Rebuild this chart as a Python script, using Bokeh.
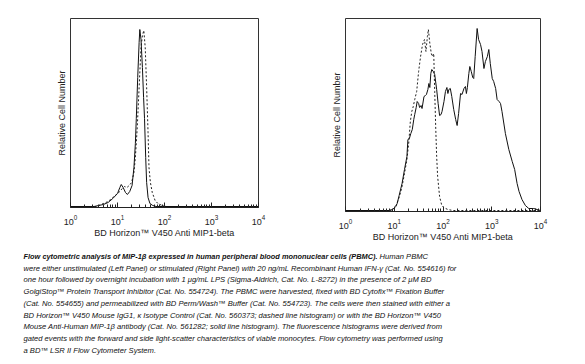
import numpy as np
from bokeh.plotting import figure
from bokeh.layouts import column, row
from bokeh.models import Range1d, FixedTicker, LogTickFormatter
from bokeh.core.properties import value
from bokeh.embed import file_html
from bokeh.resources import INLINE

# ---------------- data (log10 fluorescence intensity, relative cell number) ----------------
left_solid_log = [0.00, 0.50, 0.60, 0.70, 0.80, 0.90, 1.00, 1.05, 1.08, 1.12, 1.17, 1.21, 1.26,
                  1.31, 1.35, 1.38, 1.40, 1.43, 1.46, 1.475, 1.50, 1.53, 1.555, 1.575, 1.60,
                  1.62, 1.65, 1.69, 1.75, 1.82, 4.00]
left_solid_cnt = [1, 1, 2, 3, 5, 9, 14, 20, 23, 20, 15, 13, 16,
                  22, 40, 64, 89, 130, 165, 178, 168, 140, 110, 89, 50,
                  25, 10, 4, 2, 1, 1]

left_dash_log = [0.00, 0.55, 0.65, 0.80, 0.90, 1.00, 1.05, 1.10, 1.15, 1.20, 1.25, 1.30, 1.35,
                 1.38, 1.42, 1.46, 1.50, 1.53, 1.56, 1.59, 1.62, 1.65, 1.67, 1.70, 1.74, 1.80,
                 1.86, 1.95, 2.05, 4.00]
left_dash_cnt = [1, 1, 3, 6, 10, 14, 16, 19, 21, 20, 22, 25, 35,
                 50, 80, 120, 160, 172, 177, 160, 120, 75, 40, 25, 15, 7,
                 4, 2, 1, 1]

right_solid_log = [0.00, 0.90, 0.97, 1.03, 1.06, 1.10, 1.16, 1.21, 1.26, 1.28, 1.31, 1.34, 1.37,
                   1.40, 1.42, 1.45, 1.47, 1.50, 1.52, 1.55, 1.57, 1.61, 1.64, 1.66, 1.69, 1.71,
                   1.73, 1.75, 1.77, 1.80, 1.83, 1.87, 1.90, 1.93, 1.96, 1.98, 2.02, 2.05, 2.08,
                   2.10, 2.12, 2.15, 2.18, 2.22, 2.26, 2.29, 2.32, 2.36, 2.39, 2.43, 2.46, 2.48,
                   2.50, 2.53, 2.55, 2.58, 2.61, 2.63, 2.66, 2.70, 2.73, 2.77, 2.80, 2.84, 2.87,
                   2.91, 2.94, 2.97, 3.01, 3.04, 3.08, 3.11, 3.15, 3.18, 3.21, 3.28, 3.35, 3.42,
                   3.47, 3.52, 3.56, 3.62, 3.69, 3.76, 3.86, 3.93, 4.00]
right_solid_cnt = [1, 1, 2, 5, 8, 16, 28, 42, 55, 72, 73, 78, 82,
                   92, 97, 104, 110, 108, 104, 106, 103, 115, 116, 117, 122, 128,
                   124, 138, 142, 140, 137, 122, 108, 96, 97, 100, 110, 120, 124,
                   118, 122, 123, 115, 102, 92, 86, 98, 118, 117, 123, 125, 118,
                   124, 138, 145, 140, 134, 133, 155, 183, 172, 167, 160, 143, 150,
                   155, 162, 148, 133, 130, 123, 112, 110, 108, 100, 78, 62, 50,
                   42, 28, 20, 12, 6, 3, 3, 2, 1]

right_dash_log = [0.00, 0.90, 0.97, 1.03, 1.10, 1.16, 1.21, 1.26, 1.30, 1.33, 1.36, 1.39, 1.42,
                  1.46, 1.50, 1.54, 1.58, 1.62, 1.65, 1.68, 1.70, 1.73, 1.76, 1.78, 1.81, 1.83,
                  1.85, 1.87, 1.89, 1.93, 1.97, 2.01, 2.10, 2.20, 4.00]
right_dash_cnt = [1, 1, 2, 5, 14, 25, 38, 52, 70, 90, 100, 105, 112,
                  120, 140, 155, 167, 172, 160, 175, 182, 168, 158, 155, 158, 120,
                  85, 55, 35, 15, 7, 4, 2, 1, 1]

decade_ticks = [1, 10, 100, 1000, 10000]
x_label = "BD Horizon™ V450 Anti MIP1-beta"
y_label = "Relative Cell Number"

caption_bold = "Flow cytometric analysis of MIP-1β expressed in human peripheral blood mononuclear cells (PBMC)."
caption_first_rest = "Human PBMC"
caption_lines = [
    "were either unstimulated (Left Panel) or stimulated (Right Panel) with 20 ng/mL Recombinant Human IFN-γ (Cat. No. 554616) for",
    "one hour followed by overnight incubation with 1 μg/mL LPS (Sigma-Aldrich, Cat. No. L-8272) in the presence of 2 μM BD",
    "GolgiStop™ Protein Transport Inhibitor (Cat. No. 554724). The PBMC were harvested, fixed with BD Cytofix™ Fixation Buffer",
    "(Cat. No. 554655) and permeabilized with BD Perm/Wash™ Buffer (Cat. No. 554723). The cells were then stained with either a",
    "BD Horizon™ V450 Mouse IgG1, κ Isotype Control  (Cat. No. 560373; dashed line histogram) or with the BD Horizon™ V450",
    "Mouse Anti-Human MIP-1β antibody (Cat. No. 561282; solid line histogram). The fluorescence histograms were derived from",
    "gated events with the forward and side light-scatter characteristics of viable monocytes. Flow cytometry was performed using",
    "a BD™ LSR II Flow Cytometer System.",
]

FONT = "Liberation Sans"


def make_panel(solid_log, solid_cnt, dash_log, dash_cnt, ymax, fw, fh, bl, br, bt, bb):
    p = figure(frame_width=fw, frame_height=fh, x_axis_type="log",
               x_range=Range1d(1, 10000), y_range=Range1d(0, ymax),
               output_backend="svg", toolbar_location=None,
               min_border_left=bl, min_border_right=br, min_border_top=bt, min_border_bottom=bb)
    p.background_fill_color = "white"
    p.border_fill_color = "white"
    p.outline_line_color = "#333333"
    p.outline_line_width = 1
    p.grid.visible = False

    minor = [d * k for d in decade_ticks[:-1] for k in range(2, 10)]
    xa = p.xaxis[0]
    xa.ticker = FixedTicker(ticks=decade_ticks, minor_ticks=minor)
    xa.formatter = LogTickFormatter()
    xa.major_tick_in = 5
    xa.major_tick_out = 0
    xa.minor_tick_in = 3
    xa.minor_tick_out = 0
    xa.axis_line_color = "#222222"
    xa.major_tick_line_color = "#222222"
    xa.minor_tick_line_color = "#222222"
    xa.major_label_text_font = FONT
    xa.major_label_text_font_size = "9px"
    xa.major_label_text_color = "#222222"
    xa.major_label_standoff = 7
    xa.axis_label = x_label
    xa.axis_label_text_font = FONT
    xa.axis_label_text_font_size = "9px"
    xa.axis_label_text_font_style = "normal"
    xa.axis_label_text_color = "#222222"
    xa.axis_label_standoff = 0

    ya = p.yaxis[0]
    ya.ticker = FixedTicker(ticks=[])
    ya.axis_line_color = None
    ya.major_tick_line_color = None
    ya.minor_tick_line_color = None
    ya.axis_label = y_label
    ya.axis_label_text_font = FONT
    ya.axis_label_text_font_size = "9px"
    ya.axis_label_text_font_style = "normal"
    ya.axis_label_text_color = "#222222"
    ya.axis_label_standoff = 4

    p.line(10 ** np.array(dash_log), dash_cnt, line_color="#222222", line_width=1,
           line_dash="2 2")
    p.line(10 ** np.array(solid_log), solid_cnt, line_color="#111111", line_width=1)
    return p


left = make_panel(left_solid_log, left_solid_cnt, left_dash_log, left_dash_cnt,
                  189, 188, 189, 70, 35, 18, 33)
right = make_panel(right_solid_log, right_solid_cnt, right_dash_log, right_dash_cnt,
                   193, 195, 193, 52, 30, 12, 35)

# caption
CW, CH = 570, 120
cap = figure(width=CW, height=CH, x_range=Range1d(0, CW), y_range=Range1d(CH, 0),
             output_backend="svg", toolbar_location=None,
             min_border=0, min_border_left=0, min_border_right=0,
             min_border_top=0, min_border_bottom=0)
cap.axis.visible = False
cap.grid.visible = False
cap.outline_line_color = None
cap.background_fill_color = "white"
cap.border_fill_color = "white"

line_gap = 11.7
y0 = 16
cap.text(x=[23], y=[y0], text=[caption_bold], text_font=value(FONT),
         text_font_size="7.4px", text_font_style="bold italic", text_color="#111111",
         text_baseline="middle", text_align="left")
cap.text(x=[379], y=[y0], text=[caption_first_rest], text_font=value(FONT),
         text_font_size="7.6px", text_font_style="italic", text_color="#111111",
         text_baseline="middle", text_align="left")
ys = [y0 + line_gap * (i + 1) for i in range(len(caption_lines))]
cap.text(x=[23] * len(caption_lines), y=ys, text=caption_lines, text_font=value(FONT),
         text_font_size="7.6px", text_font_style="italic", text_color="#111111",
         text_baseline="middle", text_align="left")

layout = column(row(left, right), cap)
open("out.html", "w").write(file_html(layout, INLINE))
